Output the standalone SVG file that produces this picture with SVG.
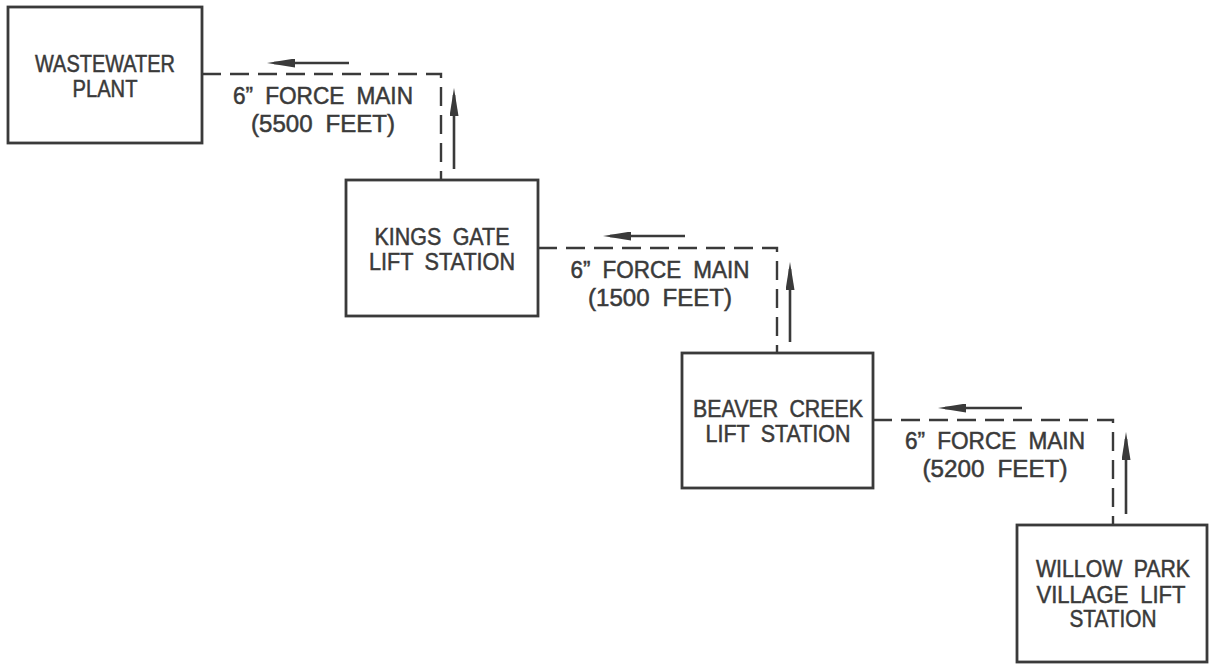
<svg xmlns="http://www.w3.org/2000/svg" width="1209" height="667" viewBox="0 0 1209 667">
<style>
.box{fill:#fff;stroke:#3a3a3a;stroke-width:2.8}
.t{font-family:"Liberation Sans",Arial,sans-serif;font-size:23.5px;fill:#3a3a3a;stroke:#3a3a3a;stroke-width:0.5;text-anchor:middle;word-spacing:6px}
.pipe{fill:none;stroke:#3a3a3a;stroke-width:2.4;stroke-dasharray:19 9}
.flow{fill:none;stroke:#3a3a3a;stroke-width:2.6}
</style>
<defs>
<marker id="ah" viewBox="0 0 28 9" refX="21" refY="4.5" markerWidth="28" markerHeight="9" markerUnits="userSpaceOnUse" orient="auto">
<path d="M0,0 L28,4.5 L0,9 z" fill="#3a3a3a"/>
</marker>
</defs>
<rect width="1209" height="667" fill="#fff"/>
<g id="connectors">
<path class="pipe" d="M202,74 H441 V180"/>
<path class="pipe" d="M538,248 H777 V353"/>
<path class="pipe" d="M873,420 H1113 V525"/>
<line class="flow" x1="349" y1="63" x2="274" y2="63" marker-end="url(#ah)"/>
<line class="flow" x1="454" y1="169" x2="454" y2="95" marker-end="url(#ah)"/>
<line class="flow" x1="685" y1="236" x2="610" y2="236" marker-end="url(#ah)"/>
<line class="flow" x1="790" y1="342" x2="790" y2="269" marker-end="url(#ah)"/>
<line class="flow" x1="1022" y1="408" x2="945" y2="408" marker-end="url(#ah)"/>
<line class="flow" x1="1126" y1="514" x2="1126" y2="439" marker-end="url(#ah)"/>
<text class="t" x="323" y="104" textLength="180" lengthAdjust="spacingAndGlyphs">6” FORCE MAIN</text>
<text class="t" x="323" y="132" textLength="144" lengthAdjust="spacingAndGlyphs">(5500 FEET)</text>
<text class="t" x="660" y="278" textLength="179" lengthAdjust="spacingAndGlyphs">6” FORCE MAIN</text>
<text class="t" x="660" y="306" textLength="144" lengthAdjust="spacingAndGlyphs">(1500 FEET)</text>
<text class="t" x="995" y="449" textLength="180" lengthAdjust="spacingAndGlyphs">6” FORCE MAIN</text>
<text class="t" x="995" y="477" textLength="145" lengthAdjust="spacingAndGlyphs">(5200 FEET)</text>
</g>
<g id="wastewater-plant">
<rect class="box" x="8" y="7" width="194" height="136"/>
<text class="t" x="105" y="72" textLength="140" lengthAdjust="spacingAndGlyphs">WASTEWATER</text>
<text class="t" x="105" y="97" textLength="65" lengthAdjust="spacingAndGlyphs">PLANT</text>
</g>
<g id="kings-gate">
<rect class="box" x="346" y="180" width="192" height="136"/>
<text class="t" x="442" y="245" textLength="135" lengthAdjust="spacingAndGlyphs">KINGS GATE</text>
<text class="t" x="442" y="270" textLength="146" lengthAdjust="spacingAndGlyphs">LIFT STATION</text>
</g>
<g id="beaver-creek">
<rect class="box" x="682" y="353" width="191" height="135"/>
<text class="t" x="778" y="417" textLength="170" lengthAdjust="spacingAndGlyphs">BEAVER CREEK</text>
<text class="t" x="778" y="442" textLength="145" lengthAdjust="spacingAndGlyphs">LIFT STATION</text>
</g>
<g id="willow-park">
<rect class="box" x="1017" y="525" width="190" height="137"/>
<text class="t" x="1113" y="577" textLength="154" lengthAdjust="spacingAndGlyphs">WILLOW PARK</text>
<text class="t" x="1111" y="603" textLength="149" lengthAdjust="spacingAndGlyphs">VILLAGE LIFT</text>
<text class="t" x="1113" y="627" textLength="87" lengthAdjust="spacingAndGlyphs">STATION</text>
</g>
</svg>
